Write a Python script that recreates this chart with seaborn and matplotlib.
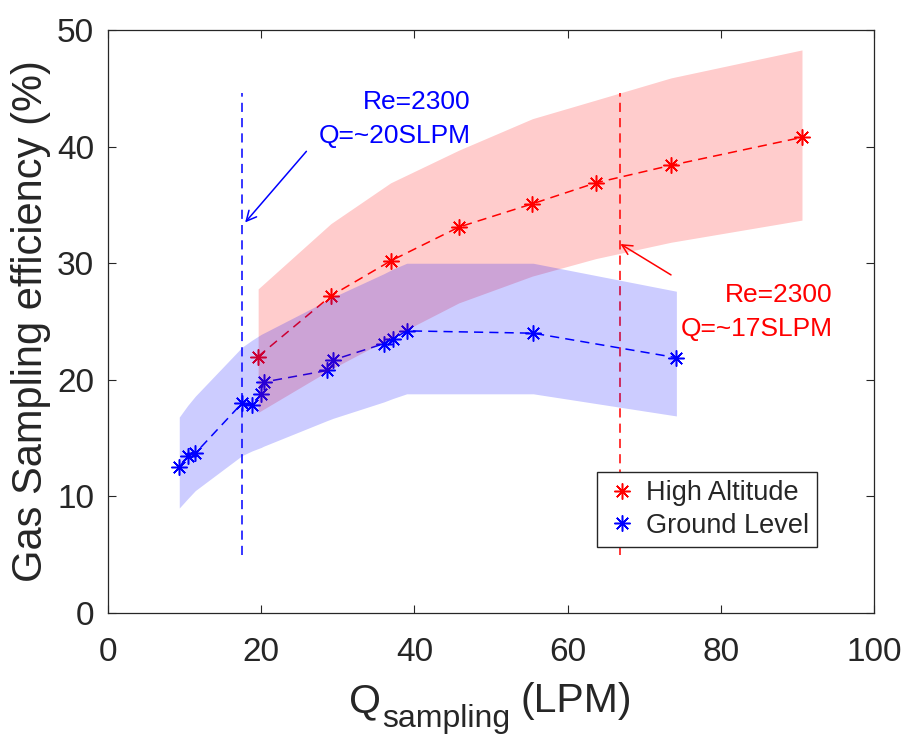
import matplotlib
matplotlib.use("Agg")
import matplotlib.pyplot as plt
import pandas as pd
import seaborn as sns
from matplotlib.lines import Line2D
from matplotlib.transforms import IdentityTransform

# High-altitude campaign: sampling flow (LPM), efficiency (%) and band limits
high_q = [19.6, 29.1, 36.9, 45.8, 55.4, 63.7, 73.5, 90.6]
high_eff = [22.0, 27.2, 30.2, 33.1, 35.1, 36.9, 38.4, 40.8]
high_upper = [27.8, 33.4, 36.9, 39.7, 42.4, 44.0, 45.9, 48.3]
high_lower = [17.2, 20.9, 23.6, 26.6, 28.9, 30.4, 31.8, 33.7]

# Ground-level campaign
ground_q = [9.3, 10.4, 11.4, 17.5, 18.8, 20.0, 20.3, 28.6, 29.4, 36.0, 37.2, 39.0, 55.5, 74.2]
ground_eff = [12.5, 13.5, 13.7, 18.0, 17.8, 18.8, 19.8, 20.8, 21.7, 23.1, 23.5, 24.2, 24.0, 21.9]
ground_upper = [16.8, 17.8, 18.6, 22.8, 23.4, 23.9, 24.0, 26.8, 27.1, 29.1, 29.5, 30.0, 30.0, 27.6]
ground_lower = [9.0, 9.8, 10.5, 13.5, 13.9, 14.2, 14.3, 16.5, 16.7, 18.1, 18.4, 18.8, 18.8, 16.9]

# Laminar/turbulent transition (Re = 2300) flows for each campaign
transition_q = {"ground": 17.5, "high": 66.9}
transition_span = (5.0, 44.6)

series_labels = ["High Altitude", "Ground Level"]
x_ticks = [0, 20, 40, 60, 80, 100]
y_ticks = [0, 10, 20, 30, 40, 50]

high_df = pd.DataFrame({"q": high_q, "eff": high_eff, "lo": high_lower, "hi": high_upper})
ground_df = pd.DataFrame({"q": ground_q, "eff": ground_eff, "lo": ground_lower, "hi": ground_upper})

sns.set_style("ticks")
plt.rcParams["font.family"] = ["Liberation Sans", "DejaVu Sans"]

DARK = "#262626"
RED = (1.0, 0.0, 0.0)
BLUE = (0.0, 0.0, 1.0)
STAR = (8, 2, 0)
DASH = (0, (6, 4))

fig = plt.figure(figsize=(9.04, 7.34), dpi=100)
ax = fig.add_axes([0.1195, 0.1649, 0.8473, 0.7941])

for df, col in ((high_df, RED), (ground_df, BLUE)):
    sns.lineplot(data=df, x="q", y="eff", color=col, ax=ax, zorder=2,
                 linestyle=DASH, linewidth=1.1, marker=STAR, markersize=11.5,
                 markeredgewidth=1.1, markeredgecolor=col, markerfacecolor=col)

# Re = 2300 markers
ax.vlines(transition_q["ground"], *transition_span, colors=[BLUE],
          linestyles=[DASH], linewidth=1.1, zorder=2)
ax.vlines(transition_q["high"], *transition_span, colors=[RED],
          linestyles=[DASH], linewidth=1.1, zorder=2)

# Uncertainty bands drawn over the lines
ax.fill_between(high_df["q"], high_df["lo"], high_df["hi"], color=RED,
                alpha=0.2, linewidth=0, zorder=3)
ax.fill_between(ground_df["q"], ground_df["lo"], ground_df["hi"], color=BLUE,
                alpha=0.2, linewidth=0, zorder=3)

# Annotations
ax.text(47.3, 43.8, "Re=2300", color=BLUE, fontsize=19, ha="right", va="center", zorder=5)
ax.text(47.3, 40.9, "Q=~20SLPM", color=BLUE, fontsize=19, ha="right", va="center", zorder=5)
ax.annotate("", xy=(17.9, 33.5), xytext=(25.9, 39.6),
            arrowprops=dict(arrowstyle="->", color=BLUE, lw=1.1,
                            mutation_scale=18, shrinkA=0, shrinkB=0), zorder=5)
ax.text(94.6, 27.3, "Re=2300", color=RED, fontsize=19, ha="right", va="center", zorder=5)
ax.text(94.6, 24.4, "Q=~17SLPM", color=RED, fontsize=19, ha="right", va="center", zorder=5)
ax.annotate("", xy=(66.9, 31.65), xytext=(73.5, 29.0),
            arrowprops=dict(arrowstyle="->", color=RED, lw=1.1,
                            mutation_scale=18, shrinkA=0, shrinkB=0), zorder=5)

ax.set_xlim(0, 100)
ax.set_ylim(0, 50)
ax.set_xticks(x_ticks)
ax.set_yticks(y_ticks)
ax.tick_params(axis="both", which="both", direction="in", top=True, right=True,
               length=6, width=0.8, color=DARK, labelcolor=DARK, labelsize=24)
ax.tick_params(axis="x", pad=17)
ax.tick_params(axis="y", pad=10)
for sp in ax.spines.values():
    sp.set_visible(True)
    sp.set_color(DARK)
    sp.set_linewidth(0.9)

ax.set_xlabel("")
ax.set_ylabel("Gas Sampling efficiency (%)", fontsize=30, color=DARK, labelpad=4)

# x-axis title with a subscript, laid out piece by piece in pixel coordinates
fig.canvas.draw()
renderer = fig.canvas.get_renderer()
ident = IdentityTransform()
H = fig.bbox.height
x0, base = 349, H - 712
t_q = fig.text(x0, base, "Q", fontsize=29.5, color=DARK, ha="left", va="baseline",
               transform=ident)
wq = t_q.get_window_extent(renderer).width
t_sub = fig.text(x0 + wq + 1, base - 15, "sampling", fontsize=23, color=DARK,
                 ha="left", va="baseline", transform=ident)
ws = t_sub.get_window_extent(renderer).width
fig.text(x0 + wq + 1 + ws + 10, base, "(LPM)", fontsize=29.5, color=DARK,
         ha="left", va="baseline", transform=ident)

handles = [Line2D([], [], color=c, marker=STAR, linestyle="none",
                  markersize=11.5, markeredgewidth=1.1) for c in (RED, BLUE)]
leg = ax.legend(handles, series_labels, loc="lower right",
                bbox_to_anchor=(0.926, 0.113), borderaxespad=0, fontsize=19.5,
                frameon=True, fancybox=False, framealpha=1, edgecolor=DARK,
                handlelength=1.2, handletextpad=0.3, labelspacing=0.25,
                borderpad=0.3)
leg.get_frame().set_linewidth(1.0)
leg.set_zorder(6)

fig.savefig("out.png", dpi=100)
